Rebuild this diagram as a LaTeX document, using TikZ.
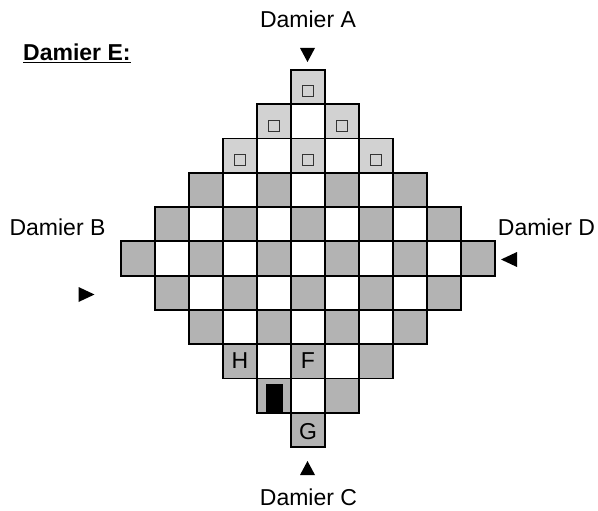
\documentclass[tikz,border=0pt]{standalone}
\usepackage{fontspec}
\setmainfont{Liberation Sans}
\definecolor{darkcell}{RGB}{179,179,179}
\definecolor{lightcell}{RGB}{210,210,210}
\tikzset{
  cellborder/.style={draw=black, line width=1.8pt},
  lbl/.style={inner sep=0pt, anchor=base, font=\fontsize{23}{27}\selectfont},
  marker/.style={fill=black},
  minisq/.style={fill=lightcell, draw=black!80, line width=0.9pt},
}
\begin{document}
\begin{tikzpicture}[x=1pt,y=-1pt]
\useasboundingbox (0,0) rectangle (598,511);
\def\cw{34}
\def\ch{34.27}
% cells
\foreach \r in {1,...,11}{
  \pgfmathtruncatemacro\k{5-abs(\r-6)}
  \pgfmathtruncatemacro\kk{2*\k}
  \foreach \j in {0,...,\kk}{
    \pgfmathtruncatemacro\c{\j-\k}
    \pgfmathtruncatemacro\odd{mod(\r+\c+20,2)}
    \pgfmathsetmacro\xa{291+\cw*\c}
    \pgfmathsetmacro\ya{70+\ch*(\r-1)}
    \ifnum\odd=1
      \ifnum\r<4 \def\fc{lightcell}\else\def\fc{darkcell}\fi
    \else
      \def\fc{white}
    \fi
    \path[cellborder, fill=\fc] (\xa,\ya) rectangle ++(\cw,\ch);
    \ifnum\odd=1 \ifnum\r<4
      \path[minisq] (\xa+11.7,\ya+15.8) rectangle ++(11,11);
    \fi\fi
  }
}
% black piece
\fill[black] (265.7,384) rectangle (283.3,412);
% cell letters
\node[lbl] (H) at (240,368.5) {H};
\node[lbl] (F) at (308,368.5) {F};
\node[lbl] (G) at (308,439) {G};
% labels
\node[lbl] (A) at (308,28) {Damier A};
\node[lbl] (B) at (57.5,235) {Damier B};
\node[lbl] (D) at (546.5,235) {Damier D};
\node[lbl] (C) at (308.5,505) {Damier C};
\node[lbl, anchor=base west, font=\fontsize{23}{27}\selectfont\bfseries] (E) at (23,61) {\underline{Damier E:}};
% arrows
\path[marker] (300,48) -- (315,48) -- (307.5,62) -- cycle;
\path[marker] (300,475) -- (315,475) -- (307.5,461) -- cycle;
\path[marker] (78.5,287) -- (78.5,302) -- (94.5,294.5) -- cycle;
\path[marker] (517,252) -- (517,267) -- (501,259.5) -- cycle;
\end{tikzpicture}
\end{document}
